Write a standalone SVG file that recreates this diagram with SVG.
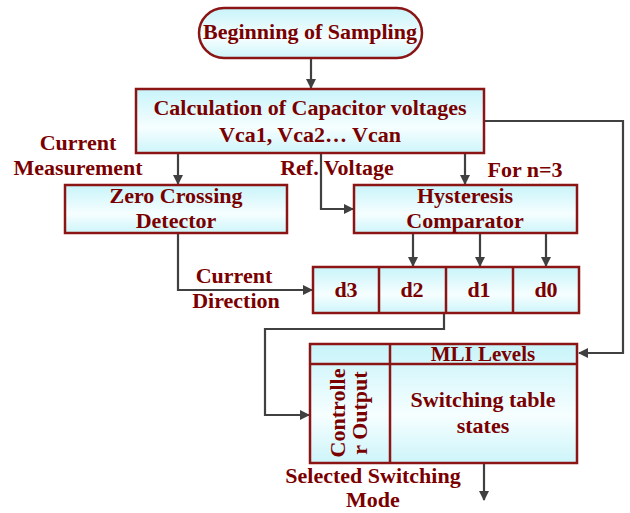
<svg xmlns="http://www.w3.org/2000/svg" width="630" height="513" viewBox="0 0 630 513">
<defs>
<linearGradient id="g" x1="0" y1="0" x2="0" y2="1">
<stop offset="0" stop-color="#c8f4fa"/>
<stop offset="0.6" stop-color="#f6feff"/>
<stop offset="1" stop-color="#cdf5fa"/>
</linearGradient>
<marker id="ah" markerWidth="10" markerHeight="10" refX="9" refY="5" orient="auto" markerUnits="userSpaceOnUse">
<path d="M0,0 L10,5 L0,10 Z" fill="#404040"/>
</marker>
<style>
.box{fill:url(#g);stroke:#8b1414;stroke-width:2.5}
.ln{fill:none;stroke:#8b1414;stroke-width:2.5}
.t{font-family:"Liberation Serif",serif;font-weight:bold;fill:#7a0000;font-size:22px}
.c{text-anchor:middle}
.cn{fill:none;stroke:#404040;stroke-width:2.2;marker-end:url(#ah)}
</style>
</defs>
<rect width="630" height="513" fill="#ffffff"/>
<g id="connectors">
<path class="cn" d="M311,58 V88"/>
<path class="cn" d="M484,121 H623 V353 H579"/>
<path class="cn" d="M178,153 V184"/>
<path class="cn" d="M321,153 V209 H353"/>
<path class="cn" d="M465,153 V184"/>
<path class="cn" d="M413,233 V266"/>
<path class="cn" d="M480,233 V266"/>
<path class="cn" d="M546,233 V266"/>
<path class="cn" d="M178,233 V290 H312"/>
<path class="cn" d="M444,313 V329 H265 V415 H309"/>
<path class="cn" d="M484,463 V500"/>
</g>
<g id="start">
<rect class="box" x="199" y="8" width="223" height="50" rx="25"/>
<text class="t c" x="310" y="39">Beginning of Sampling</text>
</g>
<g id="calc">
<rect class="box" x="136" y="89" width="348" height="64"/>
<text class="t c" x="310" y="115">Calculation of Capacitor voltages</text>
<text class="t c" x="310" y="142">Vca1, Vca2… Vcan</text>
</g>
<g id="zcd">
<rect class="box" x="65" y="185" width="222" height="48"/>
<text class="t c" x="176" y="203">Zero Crossing</text>
<text class="t c" x="176" y="228">Detector</text>
</g>
<g id="hyst">
<rect class="box" x="354" y="185" width="223" height="48"/>
<text class="t c" x="465" y="203">Hysteresis</text>
<text class="t c" x="465" y="228">Comparator</text>
</g>
<g id="dbits">
<rect class="box" x="313" y="267" width="266" height="46"/>
<path class="ln" d="M379,267 V313 M446,267 V313 M513,267 V313"/>
<text class="t c" x="346" y="297">d3</text>
<text class="t c" x="412" y="297">d2</text>
<text class="t c" x="479" y="297">d1</text>
<text class="t c" x="546" y="297">d0</text>
</g>
<g id="table">
<rect class="box" x="310" y="344" width="267" height="119"/>
<path class="ln" d="M310,364 H577 M390,344 V463"/>
<text class="t c" x="483" y="361" style="font-size:21px">MLI Levels</text>
<text class="t c" x="483" y="407">Switching table</text>
<text class="t c" x="483" y="433">states</text>
<text class="t c" transform="translate(345,413) rotate(-90)">Controlle</text>
<text class="t c" transform="translate(367,413) rotate(-90)">r Output</text>
</g>
<g id="labels">
<text class="t c" x="78" y="150">Current</text>
<text class="t c" x="78" y="175">Measurement</text>
<text class="t c" x="337" y="175">Ref. Voltage</text>
<text class="t c" x="525" y="177">For n=3</text>
<text class="t c" x="234" y="283">Current</text>
<text class="t c" x="236" y="308">Direction</text>
<text class="t c" x="373" y="483">Selected Switching</text>
<text class="t c" x="373" y="507">Mode</text>
</g>
</svg>
